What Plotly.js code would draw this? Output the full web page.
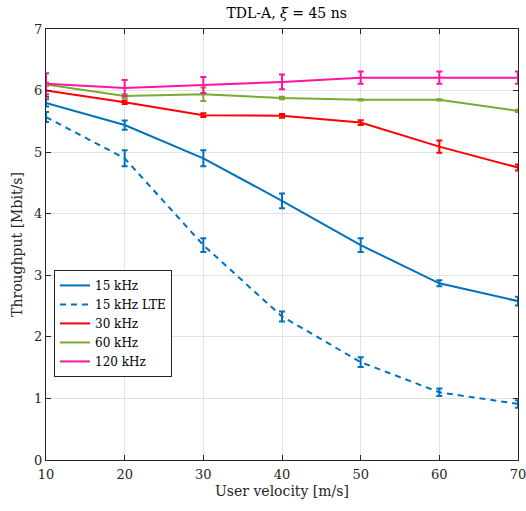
<!DOCTYPE html>
<html><head><meta charset="utf-8">
<script src="https://cdn.plot.ly/plotly-3.0.1.min.js"></script>
<style>html,body{margin:0;padding:0;background:#fff}</style>
</head><body>
<div id="chart" style="width:526px;height:511px"></div>
<script>
const velocity = [10, 20, 30, 40, 50, 60, 70];
const names = ["15 kHz", "15 kHz LTE", "30 kHz", "60 kHz", "120 kHz"];
const thr15 = [5.80, 5.44, 4.90, 4.21, 3.49, 2.87, 2.58];
const err15 = [0.06, 0.075, 0.13, 0.12, 0.11, 0.05, 0.07];
const thr15LTE = [5.57, 4.90, 3.49, 2.33, 1.59, 1.10, 0.91];
const err15LTE = [0.08, 0.13, 0.11, 0.08, 0.08, 0.06, 0.06];
const thr30 = [6.00, 5.81, 5.60, 5.59, 5.48, 5.09, 4.75];
const err30 = [0.10, 0.03, 0.03, 0.03, 0.04, 0.10, 0.05];
const thr60 = [6.10, 5.91, 5.94, 5.88, 5.85, 5.85, 5.67];
const err60 = [0.03, 0.03, 0.11, 0.02, 0.01, 0.01, 0.02];
const thr120 = [6.11, 6.04, 6.09, 6.14, 6.21, 6.21, 6.21];
const err120 = [0.17, 0.13, 0.13, 0.12, 0.10, 0.10, 0.10];

const colors = ["#0072BD", "#0072BD", "#FF0000", "#77AC30", "#FF14A0"];
const dashes = ["solid", "6px,5px", "solid", "solid", "solid"];
const ys = [thr15, thr15LTE, thr30, thr60, thr120];
const es = [err15, err15LTE, err30, err60, err120];

const traces = ys.map((y, i) => ({
  x: velocity, y: y, name: names[i], type: "scatter", mode: "lines",
  line: {color: colors[i], width: 2, dash: dashes[i]},
  error_y: {type: "data", array: es[i], visible: true, color: colors[i], thickness: 2, width: 3}
}));

const fam = "DejaVu Serif, Liberation Serif, serif";
const layout = {
  width: 526, height: 511,
  margin: {l: 46, r: 8, t: 29, b: 51},
  paper_bgcolor: "#fff", plot_bgcolor: "#fff",
  font: {family: fam, size: 13, color: "#262626"},
  title: {text: "TDL-A, <i>ξ</i> = 45 ns", x: 0.545, xanchor: "center", y: 0.984, yanchor: "top", font: {family: fam, size: 14, color: "#000"}},
  xaxis: {range: [10, 70], tickvals: velocity, ticks: "inside", ticklen: 5, tickcolor: "#262626",
    showgrid: true, gridcolor: "#e3e3e3", gridwidth: 1, zeroline: false,
    showline: true, linecolor: "#262626", linewidth: 1, mirror: "ticks",
    ticklabeloverflow: "allow", ticklabelstandoff: 2,
    title: {text: "User velocity [m/s]", font: {family: fam, size: 14}, standoff: 5},
    tickfont: {family: fam, size: 13, color: "#262626"}},
  yaxis: {range: [0, 7], dtick: 1, ticks: "inside", ticklen: 5, tickcolor: "#262626",
    showgrid: true, gridcolor: "#e3e3e3", gridwidth: 1, zeroline: false,
    showline: true, linecolor: "#262626", linewidth: 1, mirror: "ticks",
    title: {text: "Throughput [Mbit/s]", font: {family: fam, size: 14}, standoff: 8},
    tickfont: {family: fam, size: 13, color: "#262626"}},
  legend: {x: 0.017, y: 0.441, xanchor: "left", yanchor: "top", bgcolor: "#fff",
    bordercolor: "#262626", borderwidth: 1, font: {family: fam, size: 12, color: "#000"},
    tracegroupgap: 0, itemwidth: 30},
  showlegend: true
};
Plotly.newPlot("chart", traces, layout, {displayModeBar: false, staticPlot: true});
</script>
</body></html>
